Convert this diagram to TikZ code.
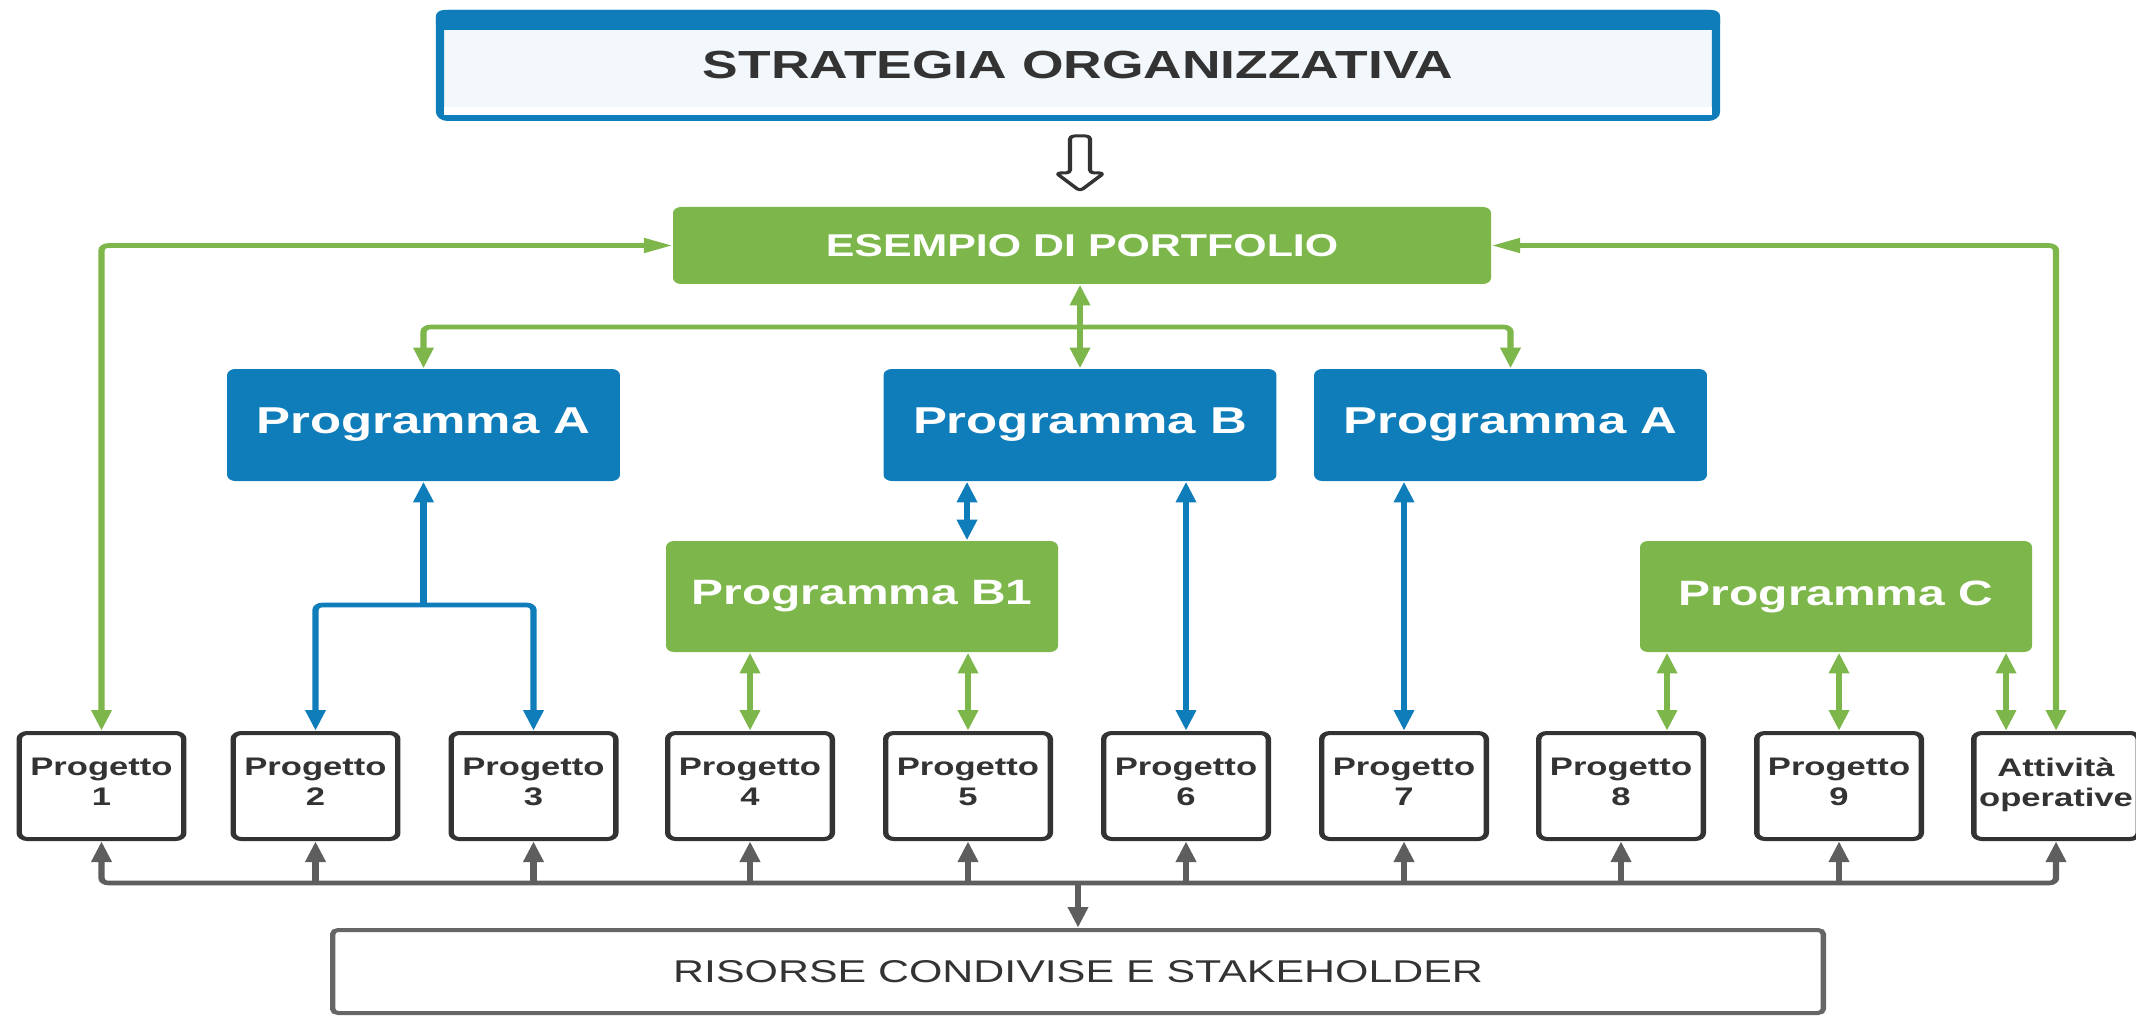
\documentclass[tikz,border=0pt]{standalone}
\usepackage{fontspec}
\setmainfont{Liberation Sans}
\usetikzlibrary{arrows.meta}
\definecolor{cblue}{HTML}{0E7DBA}
\definecolor{cgreen}{HTML}{7DB64A}
\definecolor{clight}{HTML}{F2F8FC}
\definecolor{cdark}{HTML}{333333}
\definecolor{cgray}{HTML}{5E5E5E}
\definecolor{cbord}{HTML}{666666}
\tikzset{
  Tri/.tip={Triangle[length=10.5pt,width=7pt]},
  conn/.style={line width=2.3pt, rounded corners=2.5pt},
  gconn/.style={conn, draw=cgreen, color=cgreen},
  bconn/.style={conn, draw=cblue, color=cblue},
  kconn/.style={conn, draw=cgray, color=cgray},
  stratbox/.style={draw=cblue, line width=3pt, fill=clight, rounded corners=3pt,
    minimum width=468.4pt, minimum height=52.5pt, inner sep=0pt, text=cdark,
    font=\bfseries\fontsize{19.6}{23}\selectfont},
  esembox/.style={fill=cgreen, rounded corners=3pt, minimum width=300.3pt,
    minimum height=38.5pt, inner sep=0pt, text=white,
    font=\bfseries\fontsize{15.75}{19}\selectfont},
  bprog/.style={fill=cblue, rounded corners=3pt, minimum width=144.2pt,
    minimum height=56pt, inner sep=0pt, text=white,
    font=\bfseries\fontsize{18.7}{22}\selectfont},
  gprog/.style={fill=cgreen, rounded corners=3pt, minimum width=143.9pt,
    minimum height=55.5pt, inner sep=0pt, text=white,
    font=\bfseries\fontsize{17.6}{21}\selectfont},
  proj/.style={draw=cdark, line width=2pt, fill=white, rounded corners=3pt,
    minimum width=60.4pt, minimum height=53pt, inner sep=0pt, align=center,
    text depth=4pt, text=cdark, font=\bfseries\fontsize{12.7}{15}\selectfont},
  resbox/.style={draw=cbord, line width=2pt, fill=white, rounded corners=2pt,
    minimum width=547.2pt, minimum height=41.5pt, inner sep=0pt, text=cdark,
    font=\fontsize{15.75}{19}\selectfont},
  hollow/.style={draw=cdark, line width=1.5pt, fill=white, rounded corners=1.5pt, line join=round}
}
\begin{document}
\begin{tikzpicture}
\useasboundingbox (0,0) rectangle (1068pt,-508pt);
\begin{scope}[transform canvas={xscale=1.362}, x=0.36711pt, y=-0.5pt]
% boxes
\node[stratbox] (strat) at (1078,65.5) {STRATEGIA ORGANIZZATIVA};
\fill[cblue, rounded corners=3pt] (strat.north west) rectangle ([yshift=-10pt]strat.north east);
\fill[cblue] ([yshift=-5pt]strat.north west) rectangle ([yshift=-10pt]strat.north east);
\fill[white] (444,107) rectangle (1712,115);
\draw[hollow] (1070,173) -- (1070,136) -- (1090,136) -- (1090,173) -- (1104,173) -- (1080,191) -- (1056,173) -- cycle;
\node[esembox] (esempio) at (1082,245.5) {ESEMPIO DI PORTFOLIO};
\node[bprog] (pa) at (423.5,425) {Programma A};
\node[bprog] (pb) at (1080,425) {Programma B};
\node[bprog] (pa2) at (1510.5,425) {Programma A};
\node[gprog] (pb1) at (862,596.5) {Programma B1};
\node[gprog] (pc) at (1836,596.5) {Programma C};
\node[proj] (p1) at (101.5,786) {Progetto\\1};
\node[proj] (p2) at (315.5,786) {Progetto\\2};
\node[proj] (p3) at (533.5,786) {Progetto\\3};
\node[proj] (p4) at (750,786) {Progetto\\4};
\node[proj] (p5) at (968,786) {Progetto\\5};
\node[proj] (p6) at (1186,786) {Progetto\\6};
\node[proj] (p7) at (1404,786) {Progetto\\7};
\node[proj] (p8) at (1621,786) {Progetto\\8};
\node[proj] (p9) at (1839,786) {Progetto\\9};
\node[proj] (att) at (2056,786) {Attività\\operative};
\node[resbox] (ris) at (1078,971.5) {RISORSE CONDIVISE E STAKEHOLDER};
% helper coordinates
\coordinate (gj) at (1080,327);
\coordinate (bj) at (423.5,605);
\coordinate (gb) at (1078,883);
\coordinate (xb1) at (967,0);
\coordinate (x8) at (1667,0);
\coordinate (xa) at (2006,0);
% green connectors
\draw[gconn,Tri-Tri] (esempio.west) -| (p1.north);
\draw[gconn,Tri-Tri] (esempio.east) -| (att.north);
\draw[gconn,Tri-Tri] (esempio.south -| pb.north) -- (pb.north);
\draw[gconn,Tri-Tri] (pa.north) |- (gj) -| (pa2.north);
\draw[gconn,Tri-Tri] (pb1.south -| p4.north) -- (p4.north);
\draw[gconn,Tri-Tri] (pb1.south -| p5.north) -- (p5.north);
\draw[gconn,Tri-Tri] (pc.south -| x8) -- (p8.north -| x8);
\draw[gconn,Tri-Tri] (pc.south -| p9.north) -- (p9.north);
\draw[gconn,Tri-Tri] (pc.south -| xa) -- (att.north -| xa);
% blue connectors
\draw[bconn,Tri-Tri] (p2.north) |- (bj) -| (p3.north);
\draw[bconn,Tri-] (pa.south) -- (bj);
\draw[bconn,Tri-Tri] (pb.south -| xb1) -- (pb1.north -| xb1);
\draw[bconn,Tri-Tri] (pb.south -| p6.north) -- (p6.north);
\draw[bconn,Tri-Tri] (pa2.south -| p7.north) -- (p7.north);
% gray connectors
\draw[kconn,Tri-Tri] (p1.south) |- (gb) -| (att.south);
\foreach \p in {p2,p3,p4,p5,p6,p7,p8,p9}
  \draw[kconn,-Tri] (\p.south |- gb) -- (\p.south);
\draw[kconn,-Tri] (gb) -- (ris.north);
\end{scope}
\end{tikzpicture}
\end{document}
